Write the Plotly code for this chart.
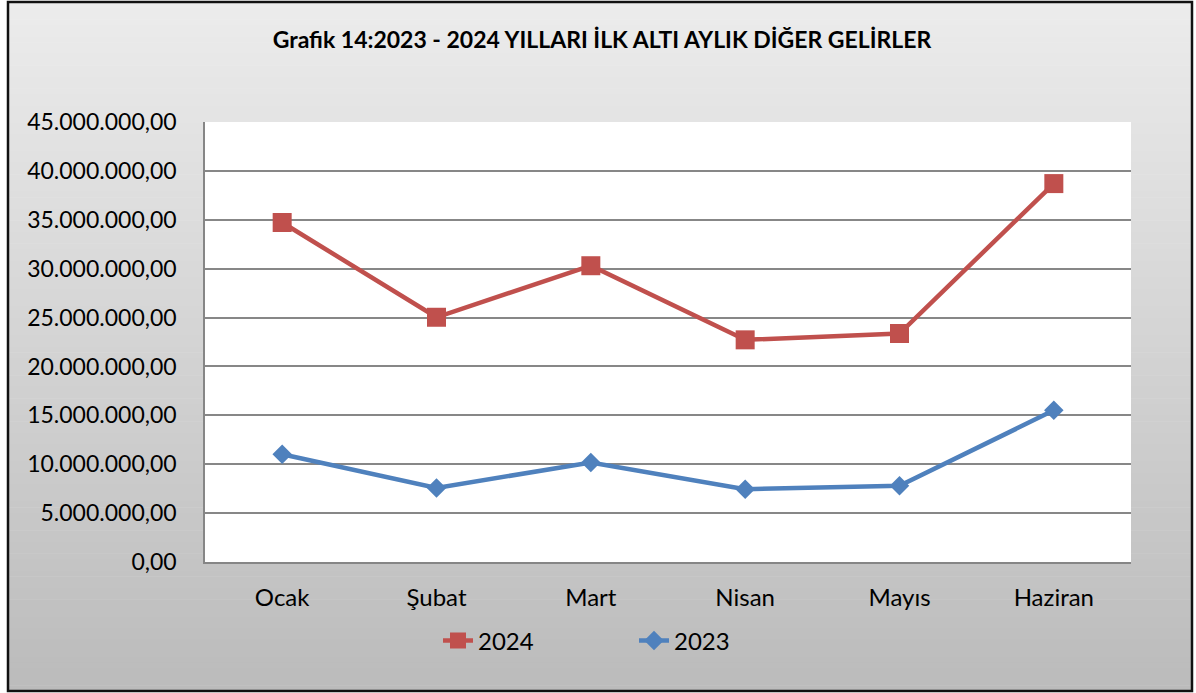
import plotly.graph_objects as go

months = ["Ocak", "Şubat", "Mart", "Nisan", "Mayıs", "Haziran"]
values_2024 = [34720000, 25030000, 30300000, 22720000, 23370000, 38700000]
values_2023 = [11020000, 7580000, 10170000, 7450000, 7790000, 15510000]
series_names = ["2024", "2023"]
y_ticks = [0, 5e6, 10e6, 15e6, 20e6, 25e6, 30e6, 35e6, 40e6, 45e6]
title_text = "Grafik 14:2023 - 2024 YILLARI İLK ALTI AYLIK DİĞER GELİRLER"

W, H = 1196, 693
L, R, T, B = 205, 1131, 122, 562   # plot area in pixels

def px(x):
    return (x - L) / (R - L)

def py(y):
    return (B - y) / (B - T)

FONT = "Lato, 'Open Sans', sans-serif"

fig = go.Figure()
fig.add_trace(go.Scatter(
    x=months, y=values_2024, name=series_names[0], mode="lines+markers",
    line=dict(color="#C0504D", width=4.5),
    marker=dict(symbol="square", size=19, color="#C0504D"),
))
fig.add_trace(go.Scatter(
    x=months, y=values_2023, name=series_names[1], mode="lines+markers",
    line=dict(color="#4F81BD", width=4.5),
    marker=dict(symbol="diamond", size=15, color="#4F81BD"),
))

shapes = []
# gradient chart background
x0, x1, y0, y1 = 8, 1192, 2, 691
n = 120
for i in range(n):
    ya = y0 + (y1 - y0) * i / n
    yb = y0 + (y1 - y0) * (i + 1) / n + 0.6
    t = (i + 0.5) / n
    c = round(236 - (236 - 187) * t)
    shapes.append(dict(type="rect", xref="paper", yref="paper",
                       x0=px(x0), x1=px(x1), y0=py(ya), y1=py(yb),
                       fillcolor=f"rgb({c},{c},{c})", line=dict(width=0), layer="below"))
# white plot area
shapes.append(dict(type="rect", xref="paper", yref="paper", x0=0, x1=1, y0=0, y1=1,
                   fillcolor="white", line=dict(width=0), layer="below"))
# outer black frame
shapes.append(dict(type="rect", xref="paper", yref="paper",
                   x0=px(x0), x1=px(x1), y0=py(y0), y1=py(y1),
                   fillcolor="rgba(0,0,0,0)", line=dict(color="#111111", width=2.5), layer="above"))

fig.update_layout(
    width=W, height=H,
    margin=dict(l=L, r=W - R, t=T, b=H - B),
    paper_bgcolor="white", plot_bgcolor="white",
    separators=",.",
    font=dict(family=FONT, size=23, color="#000000"),
    title=dict(text=f"<b>{title_text}</b>", x=602 / W, xanchor="center",
               y=1 - 40 / H, yanchor="middle", yref="container",
               font=dict(family=FONT, size=23, color="#000000")),
    shapes=shapes,
    showlegend=True,
    legend=dict(orientation="h", x=px(438), xanchor="left", y=py(641), yanchor="middle",
                bgcolor="rgba(0,0,0,0)", font=dict(size=24), entrywidth=151,
                traceorder="normal"),
)
fig.update_xaxes(
    type="category", range=[-0.5, 5.5], showgrid=False,
    showline=True, linecolor="#868686", linewidth=1.5,
    ticks="", ticklabelstandoff=13, tickfont=dict(size=24),
    fixedrange=True,
)
fig.update_yaxes(
    range=[0, 45e6], tickvals=y_ticks, tickformat=",.2f",
    showgrid=True, gridcolor="#878787", gridwidth=1.5,
    showline=True, linecolor="#868686", linewidth=1.5,
    zeroline=False, ticks="", ticklabelstandoff=22, tickfont=dict(size=23),
    fixedrange=True,
)

fig.write_html("out.html", config={"displayModeBar": False},
               post_script="document.body.style.margin='0px';")
